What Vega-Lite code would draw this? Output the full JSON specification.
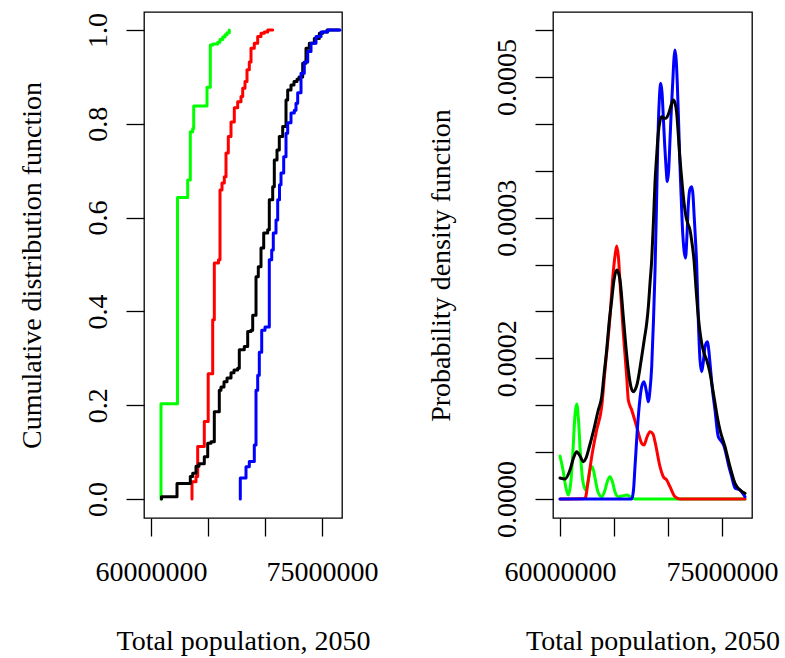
{
  "$schema": "https://vega.github.io/schema/vega-lite/v6.json",
  "background": "white",
  "padding": {"left": 17, "top": 11, "right": 0, "bottom": 0},
  "spacing": 47,
  "config": {
    "font": "Liberation Serif",
    "view": {"stroke": "black", "strokeWidth": 1.3},
    "axis": {
      "labelFont": "Liberation Serif", "titleFont": "Liberation Serif",
      "labelFontSize": 28, "titleFontSize": 28,
      "labelColor": "black", "titleColor": "black", "titleFontWeight": "normal",
      "tickColor": "black", "tickSize": 18, "tickWidth": 1.3,
      "domain": false, "grid": false,
      "labelOverlap": false, "labelFlush": false, "labelBound": false
    },
    "line": {"strokeWidth": 3, "strokeCap": "round", "strokeJoin": "round"}
  },
  "datasets": {
    "cdf": [
      {"series": "green", "i": 0, "pop": 60877000, "F": 0},
      {"series": "green", "i": 1, "pop": 60877000, "F": 0.203},
      {"series": "green", "i": 2, "pop": 62325000, "F": 0.643},
      {"series": "green", "i": 3, "pop": 63219000, "F": 0.680},
      {"series": "green", "i": 4, "pop": 63447000, "F": 0.783},
      {"series": "green", "i": 5, "pop": 63658000, "F": 0.790},
      {"series": "green", "i": 6, "pop": 63746000, "F": 0.838},
      {"series": "green", "i": 7, "pop": 64912000, "F": 0.878},
      {"series": "green", "i": 8, "pop": 65202000, "F": 0.968},
      {"series": "green", "i": 9, "pop": 65439000, "F": 0.970},
      {"series": "green", "i": 10, "pop": 65851000, "F": 0.974},
      {"series": "green", "i": 11, "pop": 66053000, "F": 0.980},
      {"series": "green", "i": 12, "pop": 66289000, "F": 0.985},
      {"series": "green", "i": 13, "pop": 66491000, "F": 0.990},
      {"series": "green", "i": 14, "pop": 66667000, "F": 0.994},
      {"series": "green", "i": 15, "pop": 66868000, "F": 1.0},

      {"series": "red", "i": 0, "pop": 63596000, "F": 0},
      {"series": "red", "i": 1, "pop": 63596000, "F": 0.037},
      {"series": "red", "i": 2, "pop": 63947000, "F": 0.048},
      {"series": "red", "i": 3, "pop": 64096000, "F": 0.112},
      {"series": "red", "i": 4, "pop": 64675000, "F": 0.165},
      {"series": "red", "i": 5, "pop": 65018000, "F": 0.267},
      {"series": "red", "i": 6, "pop": 65412000, "F": 0.382},
      {"series": "red", "i": 7, "pop": 65553000, "F": 0.503},
      {"series": "red", "i": 8, "pop": 65921000, "F": 0.510},
      {"series": "red", "i": 9, "pop": 66053000, "F": 0.659},
      {"series": "red", "i": 10, "pop": 66228000, "F": 0.674},
      {"series": "red", "i": 11, "pop": 66430000, "F": 0.687},
      {"series": "red", "i": 12, "pop": 66579000, "F": 0.738},
      {"series": "red", "i": 13, "pop": 66781000, "F": 0.773},
      {"series": "red", "i": 14, "pop": 67018000, "F": 0.804},
      {"series": "red", "i": 15, "pop": 67307000, "F": 0.834},
      {"series": "red", "i": 16, "pop": 67605000, "F": 0.847},
      {"series": "red", "i": 17, "pop": 67895000, "F": 0.858},
      {"series": "red", "i": 18, "pop": 68044000, "F": 0.876},
      {"series": "red", "i": 19, "pop": 68246000, "F": 0.890},
      {"series": "red", "i": 20, "pop": 68421000, "F": 0.915},
      {"series": "red", "i": 21, "pop": 68623000, "F": 0.932},
      {"series": "red", "i": 22, "pop": 68772000, "F": 0.961},
      {"series": "red", "i": 23, "pop": 69061000, "F": 0.972},
      {"series": "red", "i": 24, "pop": 69360000, "F": 0.986},
      {"series": "red", "i": 25, "pop": 69649000, "F": 0.993},
      {"series": "red", "i": 26, "pop": 69939000, "F": 0.996},
      {"series": "red", "i": 27, "pop": 70237000, "F": 1.0},
      {"series": "red", "i": 28, "pop": 70675000, "F": 1.0},

      {"series": "black", "i": 0, "pop": 60921000, "F": 0},
      {"series": "black", "i": 1, "pop": 60921000, "F": 0.005},
      {"series": "black", "i": 2, "pop": 62281000, "F": 0.033},
      {"series": "black", "i": 3, "pop": 63447000, "F": 0.048},
      {"series": "black", "i": 4, "pop": 63658000, "F": 0.055},
      {"series": "black", "i": 5, "pop": 63947000, "F": 0.070},
      {"series": "black", "i": 6, "pop": 64211000, "F": 0.075},
      {"series": "black", "i": 7, "pop": 64675000, "F": 0.090},
      {"series": "black", "i": 8, "pop": 64974000, "F": 0.119},
      {"series": "black", "i": 9, "pop": 65263000, "F": 0.122},
      {"series": "black", "i": 10, "pop": 65553000, "F": 0.186},
      {"series": "black", "i": 11, "pop": 65991000, "F": 0.232},
      {"series": "black", "i": 12, "pop": 66140000, "F": 0.239},
      {"series": "black", "i": 13, "pop": 66404000, "F": 0.250},
      {"series": "black", "i": 14, "pop": 66667000, "F": 0.258},
      {"series": "black", "i": 15, "pop": 67018000, "F": 0.269},
      {"series": "black", "i": 16, "pop": 67281000, "F": 0.275},
      {"series": "black", "i": 17, "pop": 67605000, "F": 0.279},
      {"series": "black", "i": 18, "pop": 67746000, "F": 0.318},
      {"series": "black", "i": 19, "pop": 68184000, "F": 0.325},
      {"series": "black", "i": 20, "pop": 68482000, "F": 0.357},
      {"series": "black", "i": 21, "pop": 68772000, "F": 0.360},
      {"series": "black", "i": 22, "pop": 68921000, "F": 0.392},
      {"series": "black", "i": 23, "pop": 69211000, "F": 0.474},
      {"series": "black", "i": 24, "pop": 69412000, "F": 0.495},
      {"series": "black", "i": 25, "pop": 69649000, "F": 0.535},
      {"series": "black", "i": 26, "pop": 69886000, "F": 0.567},
      {"series": "black", "i": 27, "pop": 70237000, "F": 0.574},
      {"series": "black", "i": 28, "pop": 70377000, "F": 0.638},
      {"series": "black", "i": 29, "pop": 70675000, "F": 0.666},
      {"series": "black", "i": 30, "pop": 70816000, "F": 0.723},
      {"series": "black", "i": 31, "pop": 71053000, "F": 0.744},
      {"series": "black", "i": 32, "pop": 71254000, "F": 0.773},
      {"series": "black", "i": 33, "pop": 71553000, "F": 0.794},
      {"series": "black", "i": 34, "pop": 71842000, "F": 0.851},
      {"series": "black", "i": 35, "pop": 71991000, "F": 0.872},
      {"series": "black", "i": 36, "pop": 72281000, "F": 0.883},
      {"series": "black", "i": 37, "pop": 72544000, "F": 0.890},
      {"series": "black", "i": 38, "pop": 72807000, "F": 0.895},
      {"series": "black", "i": 39, "pop": 72982000, "F": 0.900},
      {"series": "black", "i": 40, "pop": 73307000, "F": 0.929},
      {"series": "black", "i": 41, "pop": 73596000, "F": 0.961},
      {"series": "black", "i": 42, "pop": 73886000, "F": 0.972},
      {"series": "black", "i": 43, "pop": 74325000, "F": 0.982},
      {"series": "black", "i": 44, "pop": 74763000, "F": 0.993},
      {"series": "black", "i": 45, "pop": 75061000, "F": 0.996},
      {"series": "black", "i": 46, "pop": 75439000, "F": 1.0},
      {"series": "black", "i": 47, "pop": 76491000, "F": 1.0},

      {"series": "blue", "i": 0, "pop": 67833000, "F": 0},
      {"series": "blue", "i": 1, "pop": 67833000, "F": 0.045},
      {"series": "blue", "i": 2, "pop": 68333000, "F": 0.069},
      {"series": "blue", "i": 3, "pop": 68623000, "F": 0.080},
      {"series": "blue", "i": 4, "pop": 69061000, "F": 0.115},
      {"series": "blue", "i": 5, "pop": 69211000, "F": 0.232},
      {"series": "blue", "i": 6, "pop": 69360000, "F": 0.264},
      {"series": "blue", "i": 7, "pop": 69500000, "F": 0.313},
      {"series": "blue", "i": 8, "pop": 69711000, "F": 0.360},
      {"series": "blue", "i": 9, "pop": 70000000, "F": 0.367},
      {"series": "blue", "i": 10, "pop": 70377000, "F": 0.510},
      {"series": "blue", "i": 11, "pop": 70588000, "F": 0.531},
      {"series": "blue", "i": 12, "pop": 70728000, "F": 0.567},
      {"series": "blue", "i": 13, "pop": 70965000, "F": 0.595},
      {"series": "blue", "i": 14, "pop": 71114000, "F": 0.638},
      {"series": "blue", "i": 15, "pop": 71272000, "F": 0.670},
      {"series": "blue", "i": 16, "pop": 71404000, "F": 0.695},
      {"series": "blue", "i": 17, "pop": 71640000, "F": 0.730},
      {"series": "blue", "i": 18, "pop": 71842000, "F": 0.780},
      {"series": "blue", "i": 19, "pop": 71991000, "F": 0.802},
      {"series": "blue", "i": 20, "pop": 72281000, "F": 0.823},
      {"series": "blue", "i": 21, "pop": 72570000, "F": 0.829},
      {"series": "blue", "i": 22, "pop": 72719000, "F": 0.844},
      {"series": "blue", "i": 23, "pop": 72868000, "F": 0.866},
      {"series": "blue", "i": 24, "pop": 73158000, "F": 0.908},
      {"series": "blue", "i": 25, "pop": 73447000, "F": 0.932},
      {"series": "blue", "i": 26, "pop": 73746000, "F": 0.954},
      {"series": "blue", "i": 27, "pop": 74035000, "F": 0.972},
      {"series": "blue", "i": 28, "pop": 74474000, "F": 0.986},
      {"series": "blue", "i": 29, "pop": 74912000, "F": 0.996},
      {"series": "blue", "i": 30, "pop": 75500000, "F": 1.0},
      {"series": "blue", "i": 31, "pop": 76579000, "F": 1.0}
    ],
    "pdf": [
      {"series": "green", "pop": 60000000, "d": 5.095e-5},
      {"series": "green", "pop": 60278000, "d": 3.436e-5},
      {"series": "green", "pop": 60556000, "d": 1.303e-5},
      {"series": "green", "pop": 60769000, "d": 4.74e-6},
      {"series": "green", "pop": 61019000, "d": 2.251e-5},
      {"series": "green", "pop": 61204000, "d": 5.806e-5},
      {"series": "green", "pop": 61389000, "d": 9.953e-5},
      {"series": "green", "pop": 61546000, "d": 1.1256e-4},
      {"series": "green", "pop": 61713000, "d": 9.36e-5},
      {"series": "green", "pop": 61898000, "d": 5.213e-5},
      {"series": "green", "pop": 62130000, "d": 2.014e-5},
      {"series": "green", "pop": 62380000, "d": 1.066e-5},
      {"series": "green", "pop": 62593000, "d": 2.014e-5},
      {"series": "green", "pop": 62778000, "d": 3.436e-5},
      {"series": "green", "pop": 62991000, "d": 3.827e-5},
      {"series": "green", "pop": 63241000, "d": 2.488e-5},
      {"series": "green", "pop": 63519000, "d": 8.29e-6},
      {"series": "green", "pop": 63861000, "d": 2.73e-6},
      {"series": "green", "pop": 64167000, "d": 1.066e-5},
      {"series": "green", "pop": 64398000, "d": 2.133e-5},
      {"series": "green", "pop": 64630000, "d": 2.642e-5},
      {"series": "green", "pop": 64861000, "d": 2.014e-5},
      {"series": "green", "pop": 65093000, "d": 8.29e-6},
      {"series": "green", "pop": 65398000, "d": 2.73e-6},
      {"series": "green", "pop": 65741000, "d": 3.55e-6},
      {"series": "green", "pop": 66176000, "d": 4.74e-6},
      {"series": "green", "pop": 66574000, "d": 2.37e-6},
      {"series": "green", "pop": 66944000, "d": 0},
      {"series": "green", "pop": 77130000, "d": 0},

      {"series": "red", "pop": 60000000, "d": 0},
      {"series": "red", "pop": 62315000, "d": 5.9e-7},
      {"series": "red", "pop": 62620000, "d": 2.251e-5},
      {"series": "red", "pop": 62935000, "d": 5.012e-5},
      {"series": "red", "pop": 63398000, "d": 8.175e-5},
      {"series": "red", "pop": 63861000, "d": 1.0936e-4},
      {"series": "red", "pop": 64167000, "d": 1.5284e-4},
      {"series": "red", "pop": 64630000, "d": 2.16e-4},
      {"series": "red", "pop": 64907000, "d": 2.654e-4},
      {"series": "red", "pop": 65093000, "d": 2.8791e-4},
      {"series": "red", "pop": 65250000, "d": 2.9976e-4},
      {"series": "red", "pop": 65417000, "d": 2.8555e-4},
      {"series": "red", "pop": 65556000, "d": 2.5592e-4},
      {"series": "red", "pop": 65861000, "d": 1.9668e-4},
      {"series": "red", "pop": 66176000, "d": 1.449e-4},
      {"series": "red", "pop": 66324000, "d": 1.173e-4},
      {"series": "red", "pop": 66639000, "d": 1.0545e-4},
      {"series": "red", "pop": 67102000, "d": 8.566e-5},
      {"series": "red", "pop": 67565000, "d": 6.599e-5},
      {"series": "red", "pop": 67778000, "d": 6.398e-5},
      {"series": "red", "pop": 68056000, "d": 7.346e-5},
      {"series": "red", "pop": 68333000, "d": 7.974e-5},
      {"series": "red", "pop": 68611000, "d": 7.701e-5},
      {"series": "red", "pop": 68796000, "d": 6.789e-5},
      {"series": "red", "pop": 69259000, "d": 3.827e-5},
      {"series": "red", "pop": 69565000, "d": 2.642e-5},
      {"series": "red", "pop": 69880000, "d": 2.251e-5},
      {"series": "red", "pop": 70185000, "d": 1.457e-5},
      {"series": "red", "pop": 70648000, "d": 2.73e-6},
      {"series": "red", "pop": 71111000, "d": 0},
      {"series": "red", "pop": 77130000, "d": 0},

      {"series": "blue", "pop": 60000000, "d": 0},
      {"series": "blue", "pop": 66639000, "d": 0},
      {"series": "blue", "pop": 66806000, "d": 1.066e-5},
      {"series": "blue", "pop": 66944000, "d": 3.827e-5},
      {"series": "blue", "pop": 67250000, "d": 9.751e-5},
      {"series": "blue", "pop": 67565000, "d": 1.3306e-4},
      {"series": "blue", "pop": 67778000, "d": 1.3898e-4},
      {"series": "blue", "pop": 68009000, "d": 1.2678e-4},
      {"series": "blue", "pop": 68176000, "d": 1.1528e-4},
      {"series": "blue", "pop": 68333000, "d": 1.2915e-4},
      {"series": "blue", "pop": 68491000, "d": 1.5675e-4},
      {"series": "blue", "pop": 68657000, "d": 2.1209e-4},
      {"series": "blue", "pop": 68796000, "d": 2.6896e-4},
      {"series": "blue", "pop": 68917000, "d": 3.3649e-4},
      {"series": "blue", "pop": 69009000, "d": 3.9372e-4},
      {"series": "blue", "pop": 69102000, "d": 4.4313e-4},
      {"series": "blue", "pop": 69194000, "d": 4.7275e-4},
      {"series": "blue", "pop": 69324000, "d": 4.9254e-4},
      {"series": "blue", "pop": 69444000, "d": 4.8223e-4},
      {"series": "blue", "pop": 69565000, "d": 4.5296e-4},
      {"series": "blue", "pop": 69694000, "d": 4.1943e-4},
      {"series": "blue", "pop": 69815000, "d": 3.9372e-4},
      {"series": "blue", "pop": 69935000, "d": 3.7595e-4},
      {"series": "blue", "pop": 70065000, "d": 3.8981e-4},
      {"series": "blue", "pop": 70185000, "d": 4.2536e-4},
      {"series": "blue", "pop": 70306000, "d": 4.609e-4},
      {"series": "blue", "pop": 70435000, "d": 4.9254e-4},
      {"series": "blue", "pop": 70556000, "d": 5.2251e-4},
      {"series": "blue", "pop": 70648000, "d": 5.3199e-4},
      {"series": "blue", "pop": 70759000, "d": 5.2014e-4},
      {"series": "blue", "pop": 70861000, "d": 4.9254e-4},
      {"series": "blue", "pop": 70991000, "d": 4.4313e-4},
      {"series": "blue", "pop": 71111000, "d": 3.9372e-4},
      {"series": "blue", "pop": 71231000, "d": 3.5427e-4},
      {"series": "blue", "pop": 71361000, "d": 3.1517e-4},
      {"series": "blue", "pop": 71481000, "d": 2.9502e-4},
      {"series": "blue", "pop": 71620000, "d": 2.8555e-4},
      {"series": "blue", "pop": 71759000, "d": 3.128e-4},
      {"series": "blue", "pop": 71880000, "d": 3.4834e-4},
      {"series": "blue", "pop": 72037000, "d": 3.673e-4},
      {"series": "blue", "pop": 72194000, "d": 3.7002e-4},
      {"series": "blue", "pop": 72315000, "d": 3.6019e-4},
      {"series": "blue", "pop": 72407000, "d": 3.3886e-4},
      {"series": "blue", "pop": 72546000, "d": 3.0687e-4},
      {"series": "blue", "pop": 72657000, "d": 2.7725e-4},
      {"series": "blue", "pop": 72806000, "d": 2.1209e-4},
      {"series": "blue", "pop": 72963000, "d": 1.6469e-4},
      {"series": "blue", "pop": 73120000, "d": 1.5083e-4},
      {"series": "blue", "pop": 73269000, "d": 1.6232e-4},
      {"series": "blue", "pop": 73426000, "d": 1.8045e-4},
      {"series": "blue", "pop": 73639000, "d": 1.8637e-4},
      {"series": "blue", "pop": 73796000, "d": 1.7417e-4},
      {"series": "blue", "pop": 73889000, "d": 1.6114e-4},
      {"series": "blue", "pop": 74120000, "d": 1.2915e-4},
      {"series": "blue", "pop": 74352000, "d": 1.0545e-4},
      {"series": "blue", "pop": 74657000, "d": 7.381e-5},
      {"series": "blue", "pop": 74972000, "d": 6.789e-5},
      {"series": "blue", "pop": 75185000, "d": 6.28e-5},
      {"series": "blue", "pop": 75435000, "d": 5.012e-5},
      {"series": "blue", "pop": 75648000, "d": 3.791e-5},
      {"series": "blue", "pop": 75898000, "d": 2.642e-5},
      {"series": "blue", "pop": 76204000, "d": 1.303e-5},
      {"series": "blue", "pop": 76667000, "d": 1.066e-5},
      {"series": "blue", "pop": 77130000, "d": 2.73e-6},

      {"series": "black", "pop": 60000000, "d": 2.488e-5},
      {"series": "black", "pop": 60463000, "d": 2.37e-5},
      {"series": "black", "pop": 60926000, "d": 3.436e-5},
      {"series": "black", "pop": 61250000, "d": 4.858e-5},
      {"series": "black", "pop": 61546000, "d": 5.604e-5},
      {"series": "black", "pop": 61852000, "d": 5.095e-5},
      {"series": "black", "pop": 62157000, "d": 4.419e-5},
      {"series": "black", "pop": 62407000, "d": 4.858e-5},
      {"series": "black", "pop": 62685000, "d": 6.043e-5},
      {"series": "black", "pop": 63083000, "d": 7.974e-5},
      {"series": "black", "pop": 63546000, "d": 1.0545e-4},
      {"series": "black", "pop": 63861000, "d": 1.2121e-4},
      {"series": "black", "pop": 64074000, "d": 1.4692e-4},
      {"series": "black", "pop": 64324000, "d": 1.7654e-4},
      {"series": "black", "pop": 64537000, "d": 2.0735e-4},
      {"series": "black", "pop": 64787000, "d": 2.3578e-4},
      {"series": "black", "pop": 65000000, "d": 2.5948e-4},
      {"series": "black", "pop": 65250000, "d": 2.7133e-4},
      {"series": "black", "pop": 65417000, "d": 2.6777e-4},
      {"series": "black", "pop": 65556000, "d": 2.5948e-4},
      {"series": "black", "pop": 65861000, "d": 2.16e-4},
      {"series": "black", "pop": 66111000, "d": 1.7891e-4},
      {"series": "black", "pop": 66324000, "d": 1.5284e-4},
      {"series": "black", "pop": 66574000, "d": 1.327e-4},
      {"series": "black", "pop": 66787000, "d": 1.2713e-4},
      {"series": "black", "pop": 66991000, "d": 1.3033e-4},
      {"series": "black", "pop": 67157000, "d": 1.3709e-4},
      {"series": "black", "pop": 67565000, "d": 1.686e-4},
      {"series": "black", "pop": 67824000, "d": 1.9076e-4},
      {"series": "black", "pop": 68028000, "d": 2.0818e-4},
      {"series": "black", "pop": 68194000, "d": 2.2986e-4},
      {"series": "black", "pop": 68333000, "d": 2.5557e-4},
      {"series": "black", "pop": 68491000, "d": 2.8318e-4},
      {"series": "black", "pop": 68657000, "d": 3.3057e-4},
      {"series": "black", "pop": 68796000, "d": 3.7441e-4},
      {"series": "black", "pop": 68954000, "d": 4.0758e-4},
      {"series": "black", "pop": 69102000, "d": 4.3365e-4},
      {"series": "black", "pop": 69259000, "d": 4.4787e-4},
      {"series": "black", "pop": 69417000, "d": 4.5296e-4},
      {"series": "black", "pop": 69583000, "d": 4.5142e-4},
      {"series": "black", "pop": 69815000, "d": 4.5107e-4},
      {"series": "black", "pop": 70120000, "d": 4.5888e-4},
      {"series": "black", "pop": 70324000, "d": 4.6801e-4},
      {"series": "black", "pop": 70491000, "d": 4.7275e-4},
      {"series": "black", "pop": 70648000, "d": 4.6919e-4},
      {"series": "black", "pop": 70806000, "d": 4.5735e-4},
      {"series": "black", "pop": 70926000, "d": 4.372e-4},
      {"series": "black", "pop": 71046000, "d": 4.1351e-4},
      {"series": "black", "pop": 71204000, "d": 3.8863e-4},
      {"series": "black", "pop": 71361000, "d": 3.6611e-4},
      {"series": "black", "pop": 71509000, "d": 3.4834e-4},
      {"series": "black", "pop": 71667000, "d": 3.3448e-4},
      {"series": "black", "pop": 71852000, "d": 3.2583e-4},
      {"series": "black", "pop": 72037000, "d": 3.1872e-4},
      {"series": "black", "pop": 72222000, "d": 3.0332e-4},
      {"series": "black", "pop": 72407000, "d": 2.8318e-4},
      {"series": "black", "pop": 72593000, "d": 2.5e-4},
      {"series": "black", "pop": 72806000, "d": 2.16e-4},
      {"series": "black", "pop": 73120000, "d": 1.8448e-4},
      {"series": "black", "pop": 73333000, "d": 1.7299e-4},
      {"series": "black", "pop": 73583000, "d": 1.6469e-4},
      {"series": "black", "pop": 73889000, "d": 1.4929e-4},
      {"series": "black", "pop": 74120000, "d": 1.3152e-4},
      {"series": "black", "pop": 74352000, "d": 1.1374e-4},
      {"series": "black", "pop": 74583000, "d": 9.597e-5},
      {"series": "black", "pop": 74815000, "d": 8.175e-5},
      {"series": "black", "pop": 75278000, "d": 6.197e-5},
      {"series": "black", "pop": 75741000, "d": 3.827e-5},
      {"series": "black", "pop": 76204000, "d": 1.86e-5},
      {"series": "black", "pop": 76667000, "d": 1.066e-5},
      {"series": "black", "pop": 77130000, "d": 6.75e-6}
    ]
  },
  "hconcat": [
    {
      "width": 198,
      "height": 506,
      "data": {"name": "cdf"},
      "encoding": {
        "x": {
          "field": "pop", "type": "quantitative",
          "scale": {"domain": [59386000, 76754000], "nice": false, "zero": false},
          "axis": {
            "title": "Total population, 2050",
            "values": [60000000, 65000000, 70000000, 75000000],
            "labelExpr": "(datum.value == 60000000 || datum.value == 75000000) ? format(datum.value, 'd') : ''",
            "labelBaseline": "alphabetic", "labelPadding": 44,
            "titleBaseline": "alphabetic", "titleY": 131
          }
        },
        "y": {
          "field": "F", "type": "quantitative",
          "scale": {"domain": [-0.0405, 1.0384], "nice": false, "zero": false},
          "axis": {
            "title": "Cumulative distribution function",
            "values": [0, 0.2, 0.4, 0.6, 0.8, 1.0],
            "format": ".1f",
            "labelAngle": -90, "labelAlign": "center", "labelBaseline": "alphabetic", "labelPadding": 20,
            "titleAngle": -90, "titleBaseline": "alphabetic", "titleX": -104
          }
        },
        "color": {
          "field": "series", "type": "nominal",
          "scale": {"domain": ["green", "red", "black", "blue"], "range": ["#00ff00", "#ff0000", "#000000", "#0000ff"]},
          "legend": null
        },
        "order": {"field": "i", "type": "quantitative"}
      },
      "layer": [
        {"transform": [{"filter": "datum.series == 'green'"}], "mark": {"type": "line", "interpolate": "step-after"}},
        {"transform": [{"filter": "datum.series == 'red'"}], "mark": {"type": "line", "interpolate": "step-after"}},
        {"transform": [{"filter": "datum.series == 'black'"}], "mark": {"type": "line", "interpolate": "step-after"}},
        {"transform": [{"filter": "datum.series == 'blue'"}], "mark": {"type": "line", "interpolate": "step-after"}}
      ]
    },
    {
      "width": 199,
      "height": 506,
      "data": {"name": "pdf"},
      "encoding": {
        "x": {
          "field": "pop", "type": "quantitative",
          "scale": {"domain": [59352000, 77778000], "nice": false, "zero": false},
          "axis": {
            "title": "Total population, 2050",
            "values": [60000000, 65000000, 70000000, 75000000],
            "labelExpr": "(datum.value == 60000000 || datum.value == 75000000) ? format(datum.value, 'd') : ''",
            "labelBaseline": "alphabetic", "labelPadding": 44,
            "titleBaseline": "alphabetic", "titleY": 131
          }
        },
        "y": {
          "field": "d", "type": "quantitative",
          "scale": {"domain": [-0.000022512, 0.00057701], "nice": false, "zero": false},
          "axis": {
            "title": "Probability density function",
            "values": [0, 0.0000555556, 0.000111111, 0.000166667, 0.000222222, 0.000277778, 0.000333333, 0.000388889, 0.000444444, 0.0005, 0.000555556],
            "labelExpr": "(round(datum.value * 18000) % 3 == 0) ? format(datum.value, '.4f') : ''",
            "labelAngle": -90, "labelAlign": "center", "labelBaseline": "alphabetic", "labelPadding": 20,
            "titleAngle": -90, "titleBaseline": "alphabetic", "titleX": -104
          }
        },
        "color": {
          "field": "series", "type": "nominal",
          "scale": {"domain": ["green", "red", "black", "blue"], "range": ["#00ff00", "#ff0000", "#000000", "#0000ff"]},
          "legend": null
        }
      },
      "layer": [
        {"transform": [{"filter": "datum.series == 'green'"}], "mark": {"type": "line", "interpolate": "monotone"}},
        {"transform": [{"filter": "datum.series == 'red'"}], "mark": {"type": "line", "interpolate": "monotone"}},
        {"transform": [{"filter": "datum.series == 'blue'"}], "mark": {"type": "line", "interpolate": "monotone"}},
        {"transform": [{"filter": "datum.series == 'black'"}], "mark": {"type": "line", "interpolate": "monotone"}}
      ]
    }
  ]
}
